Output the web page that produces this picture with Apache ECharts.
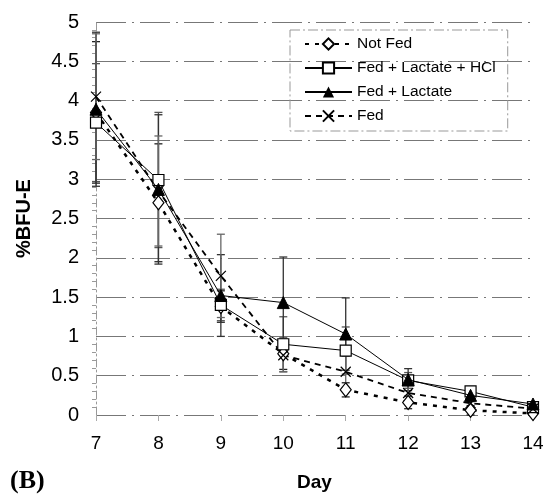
<!DOCTYPE html>
<html><head><meta charset="utf-8">
<script src="https://cdn.jsdelivr.net/npm/echarts@6/dist/echarts.min.js"></script>
<style>html,body{margin:0;padding:0;background:#fff}#c{width:548px;height:498px}</style>
</head><body><div id="c"></div>
<script>
const days = [7, 8, 9, 10, 11, 12, 13, 14];
const yTicks = [0, 0.5, 1, 1.5, 2, 2.5, 3, 3.5, 4, 4.5, 5];
const seriesNames = ['Not Fed', 'Fed + Lactate + HCl', 'Fed + Lactate', 'Fed'];
const notFed       = [3.85, 2.70, 1.38, 0.78, 0.32, 0.16, 0.06, 0.02];
const fedLacHCl    = [3.72, 2.99, 1.40, 0.90, 0.82, 0.44, 0.30, 0.10];
const fedLac       = [3.89, 2.87, 1.52, 1.43, 1.03, 0.45, 0.25, 0.14];
const fed          = [4.05, 2.85, 1.77, 0.76, 0.55, 0.28, 0.15, 0.08];
const notFedErr    = [0.90, 0.75, 0.20, 0.20, 0.09, 0.08, 0.06, 0.02];
const fedLacHClErr = [0.75, 0.86, 0.20, 0.35, 0.30, 0.10, 0.05, 0.03];
const fedLacErr    = [0.98, 0.95, 0.52, 0.58, 0.46, 0.14, 0.08, 0.03];
const fedErr       = [0.80, 0.70, 0.53, 0.21, 0.20, 0.10, 0.07, 0.03];

const chart = echarts.init(document.getElementById('c'), null, {renderer: 'canvas'});

function pairs(vals) { return days.map((d, i) => [d, vals[i]]); }
function errData(vals, errs) { return days.map((d, i) => [d, vals[i] - errs[i], vals[i] + errs[i]]); }
function errSeries(vals, errs, color) {
  return {
    type: 'custom', silent: true, z: 1,
    data: errData(vals, errs),
    encode: {x: 0, y: [1, 2]},
    renderItem: function (params, api) {
      const lo = api.coord([api.value(0), api.value(1)]);
      const hi = api.coord([api.value(0), api.value(2)]);
      const w = 4;
      const st = {stroke: color, lineWidth: 1.3};
      return {type: 'group', children: [
        {type: 'line', shape: {x1: lo[0], y1: lo[1], x2: hi[0], y2: hi[1]}, style: st},
        {type: 'line', shape: {x1: lo[0] - w, y1: lo[1], x2: lo[0] + w, y2: lo[1]}, style: st},
        {type: 'line', shape: {x1: hi[0] - w, y1: hi[1], x2: hi[0] + w, y2: hi[1]}, style: st}
      ]};
    }
  };
}
const openStyle = {color: '#fff', borderColor: '#000', borderWidth: 1.2};
const xPath = 'path://M0,0L10,10M10,0L0,10';
const FONT = 'Liberation Sans, Arial, sans-serif';

const option = {
  animation: false,
  backgroundColor: '#fff',
  grid: {left: 96, right: 15, top: 22, bottom: 83},
  legend: {
    orient: 'vertical', left: 290, top: 30,
    itemWidth: 47, itemHeight: 14, itemGap: 8,
    padding: [6, 12, 7, 14],
    borderColor: '#999', borderWidth: 1, borderType: [10, 3, 2, 3],
    textStyle: {fontFamily: FONT, fontSize: 15.5, color: '#000'},
    data: seriesNames
  },
  xAxis: {
    type: 'value', min: 7, max: 14, interval: 1,
    axisLine: {show: false},
    axisTick: {show: true, length: 6, lineStyle: {color: '#aaa'}},
    splitLine: {show: false},
    axisLabel: {fontFamily: FONT, fontSize: 19, color: '#000', margin: 19},
    name: 'Day', nameLocation: 'middle', nameGap: 58,
    nameTextStyle: {fontFamily: FONT, fontSize: 19, fontWeight: 'bold', color: '#000'}
  },
  yAxis: {
    type: 'value', min: 0, max: 5, interval: 0.5,
    axisLine: {show: true, lineStyle: {color: '#999', type: [8, 3, 2, 3]}},
    axisTick: {show: false},
    minorTick: {show: true, splitNumber: 5, length: 4, lineStyle: {color: '#999'}},
    splitLine: {show: true, lineStyle: {color: '#777', width: 1, type: [30, 6, 2, 6]}},
    axisLabel: {fontFamily: FONT, fontSize: 20, color: '#000', margin: 17,
      formatter: v => String(yTicks.find(t => Math.abs(t - v) < 1e-9) ?? v)},
    name: '%BFU-E', nameLocation: 'middle', nameGap: 62, nameRotate: 90,
    nameTextStyle: {fontFamily: FONT, fontSize: 20, fontWeight: 'bold', color: '#000'}
  },
  graphic: [{
    type: 'text', left: 10, top: 468,
    style: {text: '(B)', font: 'bold 26px "Liberation Serif", "DejaVu Serif", serif', fill: '#000'}
  }],
  series: [
    errSeries(notFed, notFedErr, '#222'),
    errSeries(fedLacHCl, fedLacHClErr, '#555'),
    errSeries(fedLac, fedLacErr, '#333'),
    errSeries(fed, fedErr, '#666'),
    {name: seriesNames[0], type: 'line', data: pairs(notFed), z: 3,
      symbol: 'diamond', symbolSize: [11, 14], itemStyle: openStyle,
      lineStyle: {color: '#000', width: 2.5, type: [4, 6]}},
    {name: seriesNames[1], type: 'line', data: pairs(fedLacHCl), z: 3,
      symbol: 'rect', symbolSize: 11, itemStyle: openStyle,
      lineStyle: {color: '#000', width: 1}},
    {name: seriesNames[2], type: 'line', data: pairs(fedLac), z: 4,
      symbol: 'triangle', symbolSize: 12, itemStyle: {color: '#000', borderColor: '#000'},
      lineStyle: {color: '#000', width: 1}},
    {name: seriesNames[3], type: 'line', data: pairs(fed), z: 3,
      symbol: xPath, symbolSize: 10, itemStyle: {color: '#fff', borderColor: '#000', borderWidth: 1.2},
      lineStyle: {color: '#000', width: 1.8, type: [6, 5]}}
  ]
};
chart.setOption(option);
</script>
</body></html>
